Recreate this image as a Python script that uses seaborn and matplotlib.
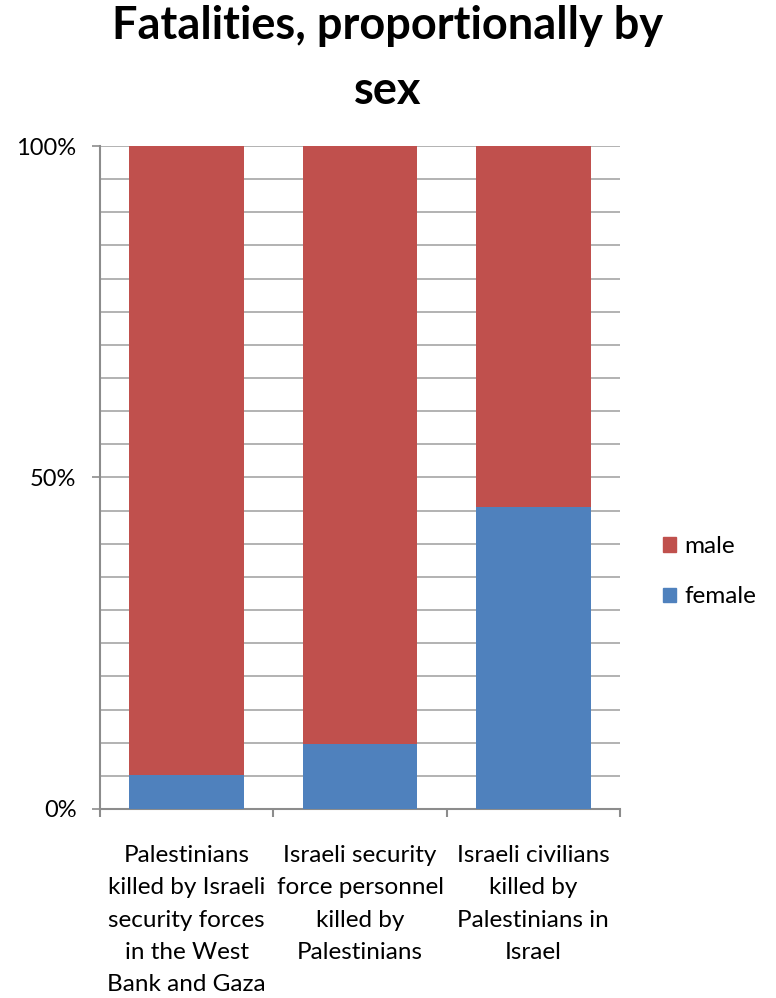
import matplotlib
matplotlib.use("Agg")
import matplotlib.pyplot as plt
import seaborn as sns
import pandas as pd
from matplotlib.patches import Patch
from matplotlib.ticker import MultipleLocator, FixedLocator

categories = [
    "Palestinians\nkilled by Israeli\nsecurity forces\nin the West\nBank and Gaza",
    "Israeli security\nforce personnel\nkilled by\nPalestinians",
    "Israeli civilians\nkilled by\nPalestinians in\nIsrael",
]
female = [5.2, 9.8, 45.6]
male = [100 - f for f in female]
series_names = ["male", "female"]
colors = {"male": "#C0504D", "female": "#4F81BD"}

sns.set_theme(style="white")
plt.rcParams["font.family"] = ["Lato", "DejaVu Sans"]
plt.rcParams["text.color"] = "black"
plt.rcParams["xtick.color"] = "black"
plt.rcParams["ytick.color"] = "black"

df = pd.DataFrame({"category": categories, "female": female, "male": male})
df["total"] = df["female"] + df["male"]

fig = plt.figure(figsize=(7.76, 9.98), dpi=100)
ax = fig.add_axes([0.1289, 0.1894, 0.799 - 0.1289, 0.8537 - 0.1894])

grid_c = "#A6A6A6"
ax.yaxis.set_major_locator(FixedLocator([0, 50, 100]))
ax.yaxis.set_minor_locator(MultipleLocator(5))
ax.grid(True, which="both", axis="y", color=grid_c, linewidth=1.2, zorder=0)
ax.set_axisbelow(True)

sns.barplot(data=df, x="category", y="total", color=colors["male"], width=0.66,
            saturation=1, ax=ax, zorder=2, linewidth=0)
sns.barplot(data=df, x="category", y="female", color=colors["female"], width=0.66,
            saturation=1, ax=ax, zorder=3, linewidth=0)

ax.set_ylim(0, 100)
ax.set_xlim(-0.5, 2.5)
ax.set_yticklabels(["0%", "50%", "100%"])
ax.set_xlabel("")
ax.set_ylabel("")

for s in ["top", "right"]:
    ax.spines[s].set_visible(False)
for s in ["left", "bottom"]:
    ax.spines[s].set_color("#8C8C8C")
    ax.spines[s].set_linewidth(1.5)

ax.tick_params(axis="y", which="major", length=6, width=1.2, color="#8C8C8C",
               labelsize=17, pad=11, left=True)
ax.tick_params(axis="y", which="minor", length=0)
ax.xaxis.set_minor_locator(FixedLocator([-0.5, 0.5, 1.5, 2.5]))
ax.tick_params(axis="x", which="minor", length=6, width=1.5, color="#8C8C8C", bottom=True)
ax.tick_params(axis="x", which="major", length=0, labelsize=17.5, pad=26)
for lbl in ax.get_xticklabels():
    lbl.set_multialignment("center")
    lbl.set_linespacing(1.66)

fig.suptitle("Fatalities, proportionally by\nsex", fontsize=32.5, fontweight="bold",
             x=0.5, y=0.995, va="top", linespacing=1.68)

handles = [Patch(color=colors[n], label=n) for n in series_names]
fig.legend(handles=handles, loc="center left", bbox_to_anchor=(0.826, 0.427),
           frameon=False, fontsize=17.5, handlelength=0.55, handleheight=0.55,
           handletextpad=0.35, labelspacing=1.2)

fig.savefig("out.png", dpi=100)
